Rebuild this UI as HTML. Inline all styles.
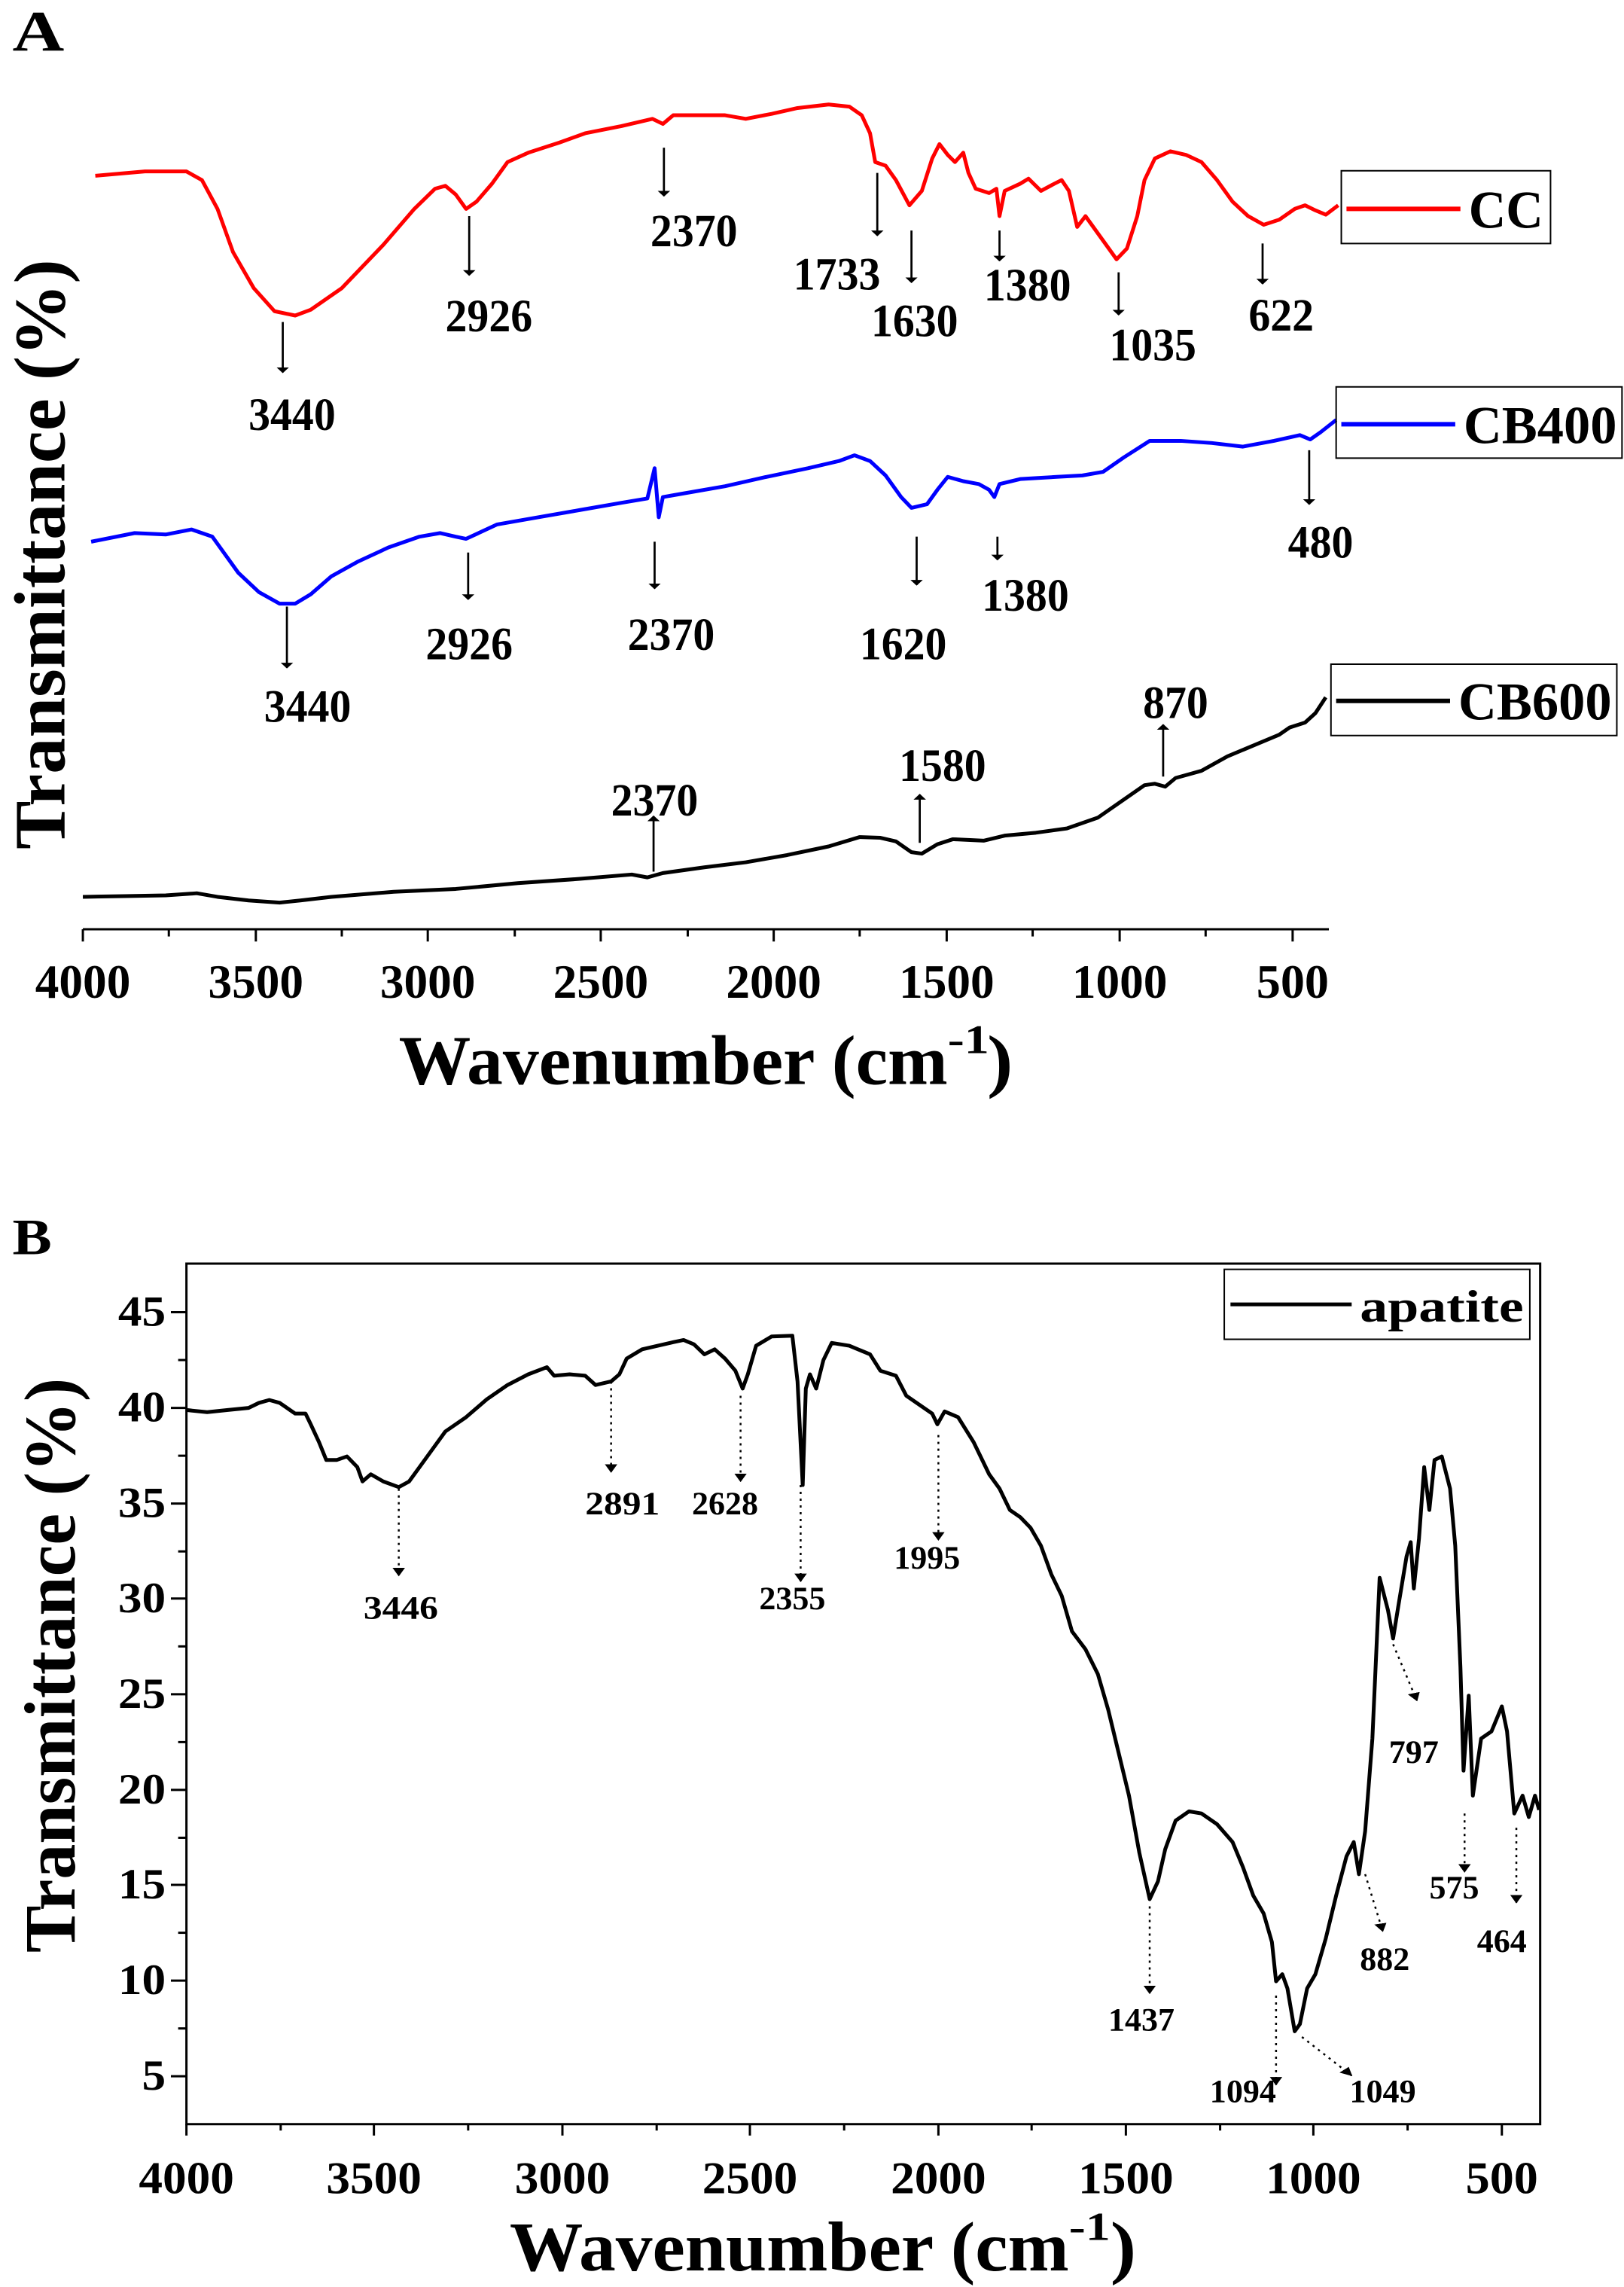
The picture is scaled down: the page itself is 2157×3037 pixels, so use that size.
<!DOCTYPE html>
<html><head><meta charset="utf-8"><style>html,body{margin:0;padding:0;background:#fff;overflow:hidden}svg{display:block}</style></head>
<body>
<svg width="2157" height="3037" viewBox="0 0 2157 3037" xmlns="http://www.w3.org/2000/svg" font-family="Liberation Serif, serif" font-weight="bold">
<defs>
<marker id="ah" markerWidth="8" markerHeight="12" refX="7" refY="6" orient="auto" markerUnits="userSpaceOnUse" viewBox="0 0 8 12"><path d="M0,0 L8,6 L0,12 z" fill="#000"/></marker>
<marker id="ah2" markerWidth="12" markerHeight="12" refX="11" refY="6" orient="auto" markerUnits="userSpaceOnUse" viewBox="0 0 12 12"><path d="M0,0 L12,6 L0,12 z" fill="#000"/></marker>
</defs>
<g transform="scale(1.3757,0.9566)">
<text x="12" y="70" font-size="80" textLength="50" lengthAdjust="spacingAndGlyphs">A</text>
<polyline fill="none" stroke="#f00" stroke-width="5" vector-effect="non-scaling-stroke" stroke-linejoin="round" points="92,244 140,238 180,238 195,250 210,290 225,350 245,400 265,432 285,438 300,430 330,400 370,340 400,290 420,262 430,258 440,270 450,290 460,280 475,255 490,225 510,212 540,198 565,185 600,175 630,165 640,172 650,160 700,160 720,165 745,158 770,150 800,145 820,148 832,160 840,185 845,225 855,230 865,250 878,285 890,265 900,220 907,200 915,215 922,225 930,212 935,240 942,262 955,268 962,262 965,300 970,265 985,255 993,248 1005,265 1018,255 1025,250 1032,265 1040,315 1048,300 1058,320 1068,340 1078,360 1088,345 1098,300 1105,250 1115,220 1130,210 1145,215 1160,225 1175,250 1190,280 1205,300 1220,312 1235,305 1250,290 1260,285 1270,292 1280,298 1292,285"/>
<polyline fill="none" stroke="#00f" stroke-width="5" vector-effect="non-scaling-stroke" stroke-linejoin="round" points="88,752 130,740 160,742 185,735 205,745 215,765 230,795 250,822 270,838 285,838 300,825 320,800 345,780 375,760 405,745 425,740 440,745 450,748 462,740 480,728 520,718 560,708 600,698 625,692 632,650 636,718 640,690 660,685 700,675 740,662 780,650 810,640 825,632 840,640 855,660 870,690 880,705 895,700 905,680 915,662 930,668 945,672 955,680 960,690 965,672 985,665 1020,662 1045,660 1065,655 1085,635 1110,612 1140,612 1170,615 1200,620 1230,612 1255,604 1265,610 1275,600 1290,583"/>
<polyline fill="none" stroke="#000" stroke-width="5" vector-effect="non-scaling-stroke" stroke-linejoin="round" points="80,1245 120,1244 160,1243 190,1240 210,1245 240,1250 270,1253 290,1250 320,1245 380,1238 440,1234 500,1226 560,1220 610,1214 625,1218 640,1212 680,1204 720,1197 760,1187 800,1175 830,1162 850,1163 865,1168 880,1183 890,1185 905,1172 920,1165 950,1167 970,1160 1000,1156 1030,1150 1060,1135 1085,1110 1105,1090 1115,1088 1125,1092 1135,1080 1160,1070 1185,1050 1210,1035 1235,1020 1245,1010 1260,1003 1270,990 1280,968"/>
<g stroke="#000" stroke-width="2" vector-effect="non-scaling-stroke" marker-end="url(#ah)">
<line x1="641" y1="205" x2="641" y2="272"/><line x1="453" y1="300" x2="453" y2="382"/><line x1="273" y1="447" x2="273" y2="517"/><line x1="847" y1="240" x2="847" y2="327"/><line x1="880" y1="320" x2="880" y2="392"/><line x1="965" y1="320" x2="965" y2="362"/><line x1="1080" y1="378" x2="1080" y2="437"/><line x1="1219" y1="338" x2="1219" y2="394"/>
<line x1="277" y1="842" x2="277" y2="927"/><line x1="452" y1="767" x2="452" y2="832"/><line x1="632" y1="752" x2="632" y2="817"/><line x1="885" y1="745" x2="885" y2="812"/><line x1="963" y1="745" x2="963" y2="777"/><line x1="1264" y1="625" x2="1264" y2="700"/>
<line x1="631" y1="1210" x2="631" y2="1133"/><line x1="888" y1="1170" x2="888" y2="1103"/><line x1="1123" y1="1078" x2="1123" y2="1006"/>
</g>
<g font-size="64" text-anchor="middle">
<text x="670" y="342" textLength="84" lengthAdjust="spacingAndGlyphs">2370</text>
<text x="472" y="460" textLength="84" lengthAdjust="spacingAndGlyphs">2926</text>
<text x="282" y="597" textLength="84" lengthAdjust="spacingAndGlyphs">3440</text>
<text x="808" y="402" textLength="84" lengthAdjust="spacingAndGlyphs">1733</text>
<text x="883" y="467" textLength="84" lengthAdjust="spacingAndGlyphs">1630</text>
<text x="992" y="417" textLength="84" lengthAdjust="spacingAndGlyphs">1380</text>
<text x="1113" y="500" textLength="84" lengthAdjust="spacingAndGlyphs">1035</text>
<text x="1237" y="459" textLength="63" lengthAdjust="spacingAndGlyphs">622</text>
<text x="297" y="1002" textLength="84" lengthAdjust="spacingAndGlyphs">3440</text>
<text x="453" y="915" textLength="84" lengthAdjust="spacingAndGlyphs">2926</text>
<text x="648" y="902" textLength="84" lengthAdjust="spacingAndGlyphs">2370</text>
<text x="872" y="915" textLength="84" lengthAdjust="spacingAndGlyphs">1620</text>
<text x="990" y="848" textLength="84" lengthAdjust="spacingAndGlyphs">1380</text>
<text x="1275" y="774" textLength="63" lengthAdjust="spacingAndGlyphs">480</text>
<text x="632" y="1132" textLength="84" lengthAdjust="spacingAndGlyphs">2370</text>
<text x="910" y="1084" textLength="84" lengthAdjust="spacingAndGlyphs">1580</text>
<text x="1135" y="997" textLength="63" lengthAdjust="spacingAndGlyphs">870</text>
</g>
<g stroke="#000" stroke-width="2" vector-effect="non-scaling-stroke" fill="none">
<rect x="1295" y="237" width="202" height="101" vector-effect="non-scaling-stroke"/>
<rect x="1290" y="537" width="276" height="99" vector-effect="non-scaling-stroke"/>
<rect x="1285" y="922" width="276" height="99" vector-effect="non-scaling-stroke"/>
</g>
<line x1="1300" y1="290" x2="1410" y2="290" stroke="#f00" stroke-width="6" vector-effect="non-scaling-stroke"/>
<text x="1418" y="316" font-size="74" textLength="72" lengthAdjust="spacingAndGlyphs">CC</text>
<line x1="1295" y1="589" x2="1405" y2="589" stroke="#00f" stroke-width="6" vector-effect="non-scaling-stroke"/>
<text x="1413" y="615" font-size="74" textLength="148" lengthAdjust="spacingAndGlyphs">CB400</text>
<line x1="1290" y1="973" x2="1400" y2="973" stroke="#000" stroke-width="6" vector-effect="non-scaling-stroke"/>
<text x="1408" y="999" font-size="74" textLength="148" lengthAdjust="spacingAndGlyphs">CB600</text>
<line x1="80" y1="1290" x2="1283" y2="1290" stroke="#000" stroke-width="3" vector-effect="non-scaling-stroke"/>
<g stroke="#000" stroke-width="3">
<line x1="80" y1="1290" x2="80" y2="1307" vector-effect="non-scaling-stroke"/><line x1="247" y1="1290" x2="247" y2="1307" vector-effect="non-scaling-stroke"/><line x1="413" y1="1290" x2="413" y2="1307" vector-effect="non-scaling-stroke"/><line x1="580" y1="1290" x2="580" y2="1307" vector-effect="non-scaling-stroke"/><line x1="747" y1="1290" x2="747" y2="1307" vector-effect="non-scaling-stroke"/><line x1="914" y1="1290" x2="914" y2="1307" vector-effect="non-scaling-stroke"/><line x1="1081" y1="1290" x2="1081" y2="1307" vector-effect="non-scaling-stroke"/><line x1="1248" y1="1290" x2="1248" y2="1307" vector-effect="non-scaling-stroke"/>
<line x1="163" y1="1290" x2="163" y2="1300" vector-effect="non-scaling-stroke"/><line x1="330" y1="1290" x2="330" y2="1300" vector-effect="non-scaling-stroke"/><line x1="497" y1="1290" x2="497" y2="1300" vector-effect="non-scaling-stroke"/><line x1="664" y1="1290" x2="664" y2="1300" vector-effect="non-scaling-stroke"/><line x1="830" y1="1290" x2="830" y2="1300" vector-effect="non-scaling-stroke"/><line x1="997" y1="1290" x2="997" y2="1300" vector-effect="non-scaling-stroke"/><line x1="1164" y1="1290" x2="1164" y2="1300" vector-effect="non-scaling-stroke"/>
</g>
<g font-size="66" text-anchor="middle">
<text x="80" y="1385" textLength="92" lengthAdjust="spacingAndGlyphs">4000</text>
<text x="247" y="1385" textLength="92" lengthAdjust="spacingAndGlyphs">3500</text>
<text x="413" y="1385" textLength="92" lengthAdjust="spacingAndGlyphs">3000</text>
<text x="580" y="1385" textLength="92" lengthAdjust="spacingAndGlyphs">2500</text>
<text x="747" y="1385" textLength="92" lengthAdjust="spacingAndGlyphs">2000</text>
<text x="914" y="1385" textLength="92" lengthAdjust="spacingAndGlyphs">1500</text>
<text x="1081" y="1385" textLength="92" lengthAdjust="spacingAndGlyphs">1000</text>
<text x="1248" y="1385" textLength="70" lengthAdjust="spacingAndGlyphs">500</text>
</g>
<text x="385" y="1505" font-size="98" textLength="530" lengthAdjust="spacingAndGlyphs">Wavenumber (cm</text>
<text x="915" y="1462" font-size="56" textLength="40" lengthAdjust="spacingAndGlyphs">-1</text>
<text x="953" y="1505" font-size="98" textLength="25" lengthAdjust="spacingAndGlyphs">)</text>
<text transform="translate(62,1179) rotate(-90)" font-size="70" textLength="819" lengthAdjust="spacingAndGlyphs">Transmittance (%)</text>
</g>

<g transform="translate(0,1550) scale(1.3757,0.9483)">
<text x="12" y="122" font-size="72" textLength="38" lengthAdjust="spacingAndGlyphs">B</text>
<rect x="180" y="135" width="1307" height="1205" fill="none" stroke="#000" stroke-width="3" vector-effect="non-scaling-stroke"/>
<polyline fill="none" stroke="#000" stroke-width="5" vector-effect="non-scaling-stroke" stroke-linejoin="round" points="180,340 200,343 220,340 240,337 250,330 260,326 270,330 285,345 295,345 300,360 308,385 315,410 325,410 335,405 345,420 350,440 358,430 370,440 385,448 395,440 405,420 420,390 430,370 450,350 470,325 490,305 510,290 528,280 535,292 550,290 565,292 575,305 590,300 598,290 605,268 620,255 650,245 660,242 670,248 680,262 690,255 700,268 710,285 717,310 722,290 730,250 745,237 765,236 770,300 775,445 778,310 782,290 788,310 795,270 803,246 820,250 840,262 850,285 865,292 875,320 890,335 900,345 905,360 912,342 925,350 940,385 955,430 965,450 975,480 985,490 995,505 1005,530 1015,570 1025,600 1035,650 1048,675 1060,710 1070,760 1080,820 1090,880 1100,960 1110,1025 1118,1000 1125,955 1135,915 1148,902 1160,905 1175,920 1190,945 1200,980 1210,1020 1220,1045 1228,1085 1232,1140 1238,1130 1243,1150 1250,1210 1255,1200 1262,1150 1270,1130 1280,1080 1290,1020 1300,965 1307,945 1312,990 1318,930 1325,800 1332,575 1340,620 1345,660 1350,615 1358,545 1362,525 1365,590 1370,520 1375,420 1380,480 1385,410 1392,405 1400,450 1405,530 1410,700 1413,845 1418,740 1422,880 1430,800 1440,790 1450,755 1455,790 1462,905 1470,880 1476,910 1482,880 1486,900"/>
<g stroke="#000" stroke-width="2.5" stroke-dasharray="3,6" marker-end="url(#ah2)">
<line x1="385" y1="450" x2="385" y2="572" vector-effect="non-scaling-stroke"/><line x1="590" y1="300" x2="590" y2="427" vector-effect="non-scaling-stroke"/><line x1="715" y1="320" x2="715" y2="440" vector-effect="non-scaling-stroke"/><line x1="773" y1="445" x2="773" y2="580" vector-effect="non-scaling-stroke"/><line x1="906" y1="375" x2="906" y2="522" vector-effect="non-scaling-stroke"/><line x1="1110" y1="1035" x2="1110" y2="1157" vector-effect="non-scaling-stroke"/><line x1="1232" y1="1160" x2="1232" y2="1285" vector-effect="non-scaling-stroke"/><line x1="1257" y1="1218" x2="1305" y2="1272" vector-effect="non-scaling-stroke"/><line x1="1318" y1="990" x2="1335" y2="1070" vector-effect="non-scaling-stroke"/><line x1="1345" y1="668" x2="1368" y2="747" vector-effect="non-scaling-stroke"/><line x1="1414" y1="905" x2="1414" y2="987" vector-effect="non-scaling-stroke"/><line x1="1464" y1="925" x2="1464" y2="1030" vector-effect="non-scaling-stroke"/>
</g>
<g font-size="46" text-anchor="middle">
<text x="387" y="632" textLength="72" lengthAdjust="spacingAndGlyphs">3446</text>
<text x="601" y="486" textLength="72" lengthAdjust="spacingAndGlyphs">2891</text>
<text x="700" y="486" textLength="64" lengthAdjust="spacingAndGlyphs">2628</text>
<text x="765" y="619" textLength="64" lengthAdjust="spacingAndGlyphs">2355</text>
<text x="895" y="562" textLength="64" lengthAdjust="spacingAndGlyphs">1995</text>
<text x="1102" y="1209" textLength="64" lengthAdjust="spacingAndGlyphs">1437</text>
<text x="1200" y="1309" textLength="64" lengthAdjust="spacingAndGlyphs">1094</text>
<text x="1335" y="1309" textLength="64" lengthAdjust="spacingAndGlyphs">1049</text>
<text x="1337" y="1124" textLength="48" lengthAdjust="spacingAndGlyphs">882</text>
<text x="1365" y="834" textLength="48" lengthAdjust="spacingAndGlyphs">797</text>
<text x="1404" y="1024" textLength="48" lengthAdjust="spacingAndGlyphs">575</text>
<text x="1450" y="1099" textLength="48" lengthAdjust="spacingAndGlyphs">464</text>
</g>
<rect x="1182" y="143" width="295" height="98" fill="none" stroke="#000" stroke-width="2" vector-effect="non-scaling-stroke"/>
<line x1="1188" y1="192" x2="1305" y2="192" stroke="#000" stroke-width="5" vector-effect="non-scaling-stroke"/>
<text x="1313" y="216" font-size="64" textLength="158" lengthAdjust="spacingAndGlyphs">apatite</text>
<g stroke="#000" stroke-width="3">
<line x1="180" y1="203" x2="165" y2="203" vector-effect="non-scaling-stroke"/><line x1="180" y1="337" x2="165" y2="337" vector-effect="non-scaling-stroke"/><line x1="180" y1="471" x2="165" y2="471" vector-effect="non-scaling-stroke"/><line x1="180" y1="604" x2="165" y2="604" vector-effect="non-scaling-stroke"/><line x1="180" y1="738" x2="165" y2="738" vector-effect="non-scaling-stroke"/><line x1="180" y1="872" x2="165" y2="872" vector-effect="non-scaling-stroke"/><line x1="180" y1="1005" x2="165" y2="1005" vector-effect="non-scaling-stroke"/><line x1="180" y1="1139" x2="165" y2="1139" vector-effect="non-scaling-stroke"/><line x1="180" y1="1273" x2="165" y2="1273" vector-effect="non-scaling-stroke"/>
<line x1="180" y1="270" x2="172" y2="270" vector-effect="non-scaling-stroke"/><line x1="180" y1="404" x2="172" y2="404" vector-effect="non-scaling-stroke"/><line x1="180" y1="538" x2="172" y2="538" vector-effect="non-scaling-stroke"/><line x1="180" y1="671" x2="172" y2="671" vector-effect="non-scaling-stroke"/><line x1="180" y1="805" x2="172" y2="805" vector-effect="non-scaling-stroke"/><line x1="180" y1="939" x2="172" y2="939" vector-effect="non-scaling-stroke"/><line x1="180" y1="1072" x2="172" y2="1072" vector-effect="non-scaling-stroke"/><line x1="180" y1="1206" x2="172" y2="1206" vector-effect="non-scaling-stroke"/>
<line x1="180" y1="1340" x2="180" y2="1356" vector-effect="non-scaling-stroke"/><line x1="361" y1="1340" x2="361" y2="1356" vector-effect="non-scaling-stroke"/><line x1="543" y1="1340" x2="543" y2="1356" vector-effect="non-scaling-stroke"/><line x1="724" y1="1340" x2="724" y2="1356" vector-effect="non-scaling-stroke"/><line x1="906" y1="1340" x2="906" y2="1356" vector-effect="non-scaling-stroke"/><line x1="1087" y1="1340" x2="1087" y2="1356" vector-effect="non-scaling-stroke"/><line x1="1268" y1="1340" x2="1268" y2="1356" vector-effect="non-scaling-stroke"/><line x1="1450" y1="1340" x2="1450" y2="1356" vector-effect="non-scaling-stroke"/>
<line x1="271" y1="1340" x2="271" y2="1349" vector-effect="non-scaling-stroke"/><line x1="452" y1="1340" x2="452" y2="1349" vector-effect="non-scaling-stroke"/><line x1="634" y1="1340" x2="634" y2="1349" vector-effect="non-scaling-stroke"/><line x1="815" y1="1340" x2="815" y2="1349" vector-effect="non-scaling-stroke"/><line x1="996" y1="1340" x2="996" y2="1349" vector-effect="non-scaling-stroke"/><line x1="1178" y1="1340" x2="1178" y2="1349" vector-effect="non-scaling-stroke"/><line x1="1359" y1="1340" x2="1359" y2="1349" vector-effect="non-scaling-stroke"/>
</g>
<g font-size="60" text-anchor="end">
<text x="160" y="222" textLength="46" lengthAdjust="spacingAndGlyphs">45</text>
<text x="160" y="356" textLength="46" lengthAdjust="spacingAndGlyphs">40</text>
<text x="160" y="490" textLength="46" lengthAdjust="spacingAndGlyphs">35</text>
<text x="160" y="623" textLength="46" lengthAdjust="spacingAndGlyphs">30</text>
<text x="160" y="757" textLength="46" lengthAdjust="spacingAndGlyphs">25</text>
<text x="160" y="891" textLength="46" lengthAdjust="spacingAndGlyphs">20</text>
<text x="160" y="1024" textLength="46" lengthAdjust="spacingAndGlyphs">15</text>
<text x="160" y="1158" textLength="46" lengthAdjust="spacingAndGlyphs">10</text>
<text x="160" y="1292" textLength="23" lengthAdjust="spacingAndGlyphs">5</text>
</g>
<g font-size="64" text-anchor="middle">
<text x="180" y="1437" textLength="92" lengthAdjust="spacingAndGlyphs">4000</text>
<text x="361" y="1437" textLength="92" lengthAdjust="spacingAndGlyphs">3500</text>
<text x="543" y="1437" textLength="92" lengthAdjust="spacingAndGlyphs">3000</text>
<text x="724" y="1437" textLength="92" lengthAdjust="spacingAndGlyphs">2500</text>
<text x="906" y="1437" textLength="92" lengthAdjust="spacingAndGlyphs">2000</text>
<text x="1087" y="1437" textLength="92" lengthAdjust="spacingAndGlyphs">1500</text>
<text x="1268" y="1437" textLength="92" lengthAdjust="spacingAndGlyphs">1000</text>
<text x="1450" y="1437" textLength="70" lengthAdjust="spacingAndGlyphs">500</text>
</g>
<text x="492" y="1545" font-size="98" textLength="540" lengthAdjust="spacingAndGlyphs">Wavenumber (cm</text>
<text x="1032" y="1502" font-size="56" textLength="40" lengthAdjust="spacingAndGlyphs">-1</text>
<text x="1072" y="1545" font-size="98" textLength="25" lengthAdjust="spacingAndGlyphs">)</text>
<text transform="translate(72,1100) rotate(-90)" font-size="70" textLength="805" lengthAdjust="spacingAndGlyphs">Transmittance (%)</text>
</g>
</svg>
</body></html>
